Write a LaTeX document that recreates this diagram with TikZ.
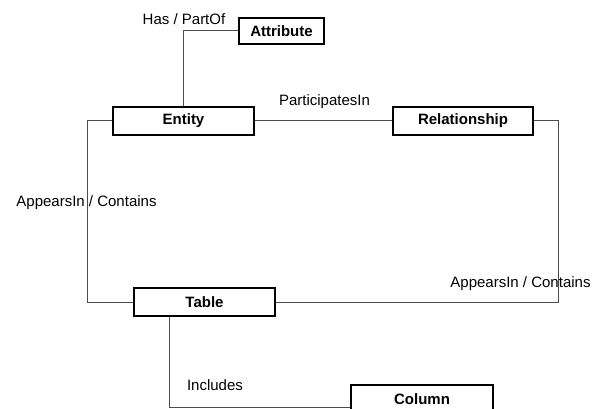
\documentclass[tikz,border=0pt]{standalone}
\usepackage{fontspec}
\setmainfont{Liberation Sans}
\begin{document}
\begin{tikzpicture}[x=1pt,y=-1pt,
  entitybox/.style={draw=black, line width=1.3pt, fill=white, inner sep=0pt,
    font=\fontsize{15}{18}\selectfont\bfseries},
  link/.style={draw=black!70, line width=1pt},
  linklabel/.style={anchor=base, inner sep=0pt, font=\fontsize{15}{18}\selectfont}]
  \useasboundingbox (0,0) rectangle (600,409);

  % entity boxes
  \node[entitybox, minimum width=85pt,  minimum height=26pt] (attr) at (281.5,31)  {Attribute};
  \node[entitybox, minimum width=141pt, minimum height=28pt] (ent)  at (183.5,121) {Entity};
  \node[entitybox, minimum width=140pt, minimum height=28pt] (rel)  at (463,121)   {Relationship};
  \node[entitybox, minimum width=141pt, minimum height=28pt] (tab)  at (204.5,302) {Table};
  \node[entitybox, minimum width=142pt, minimum height=28pt] (col)  at (422,399)   {Column};

  % bend points of the routed connectors
  \coordinate (leftbend)  at (87,121);
  \coordinate (rightbend) at (558,121);
  \coordinate (lowbend)   at (169,407);

  % connectors
  \draw[link] (attr.west) -| (ent.north);
  \draw[link] (ent.east) -- (rel.west);
  \draw[link] (ent.west) -- (leftbend) |- (tab.west);
  \draw[link] (rel.east) -- (rightbend) |- (tab.east);
  \draw[link] (tab.south -| lowbend) -- (lowbend) -- (lowbend -| col.west);

  % relationship labels
  \node[linklabel] (lhas)  at (184,25)    {Has / PartOf};
  \node[linklabel] (lpart) at (324.5,106) {ParticipatesIn};
  \node[linklabel] (lapl)  at (86.5,207)  {AppearsIn / Contains};
  \node[linklabel] (lapr)  at (520.5,287) {AppearsIn / Contains};
  \node[linklabel] (linc)  at (215,390)   {Includes};
\end{tikzpicture}
\end{document}
